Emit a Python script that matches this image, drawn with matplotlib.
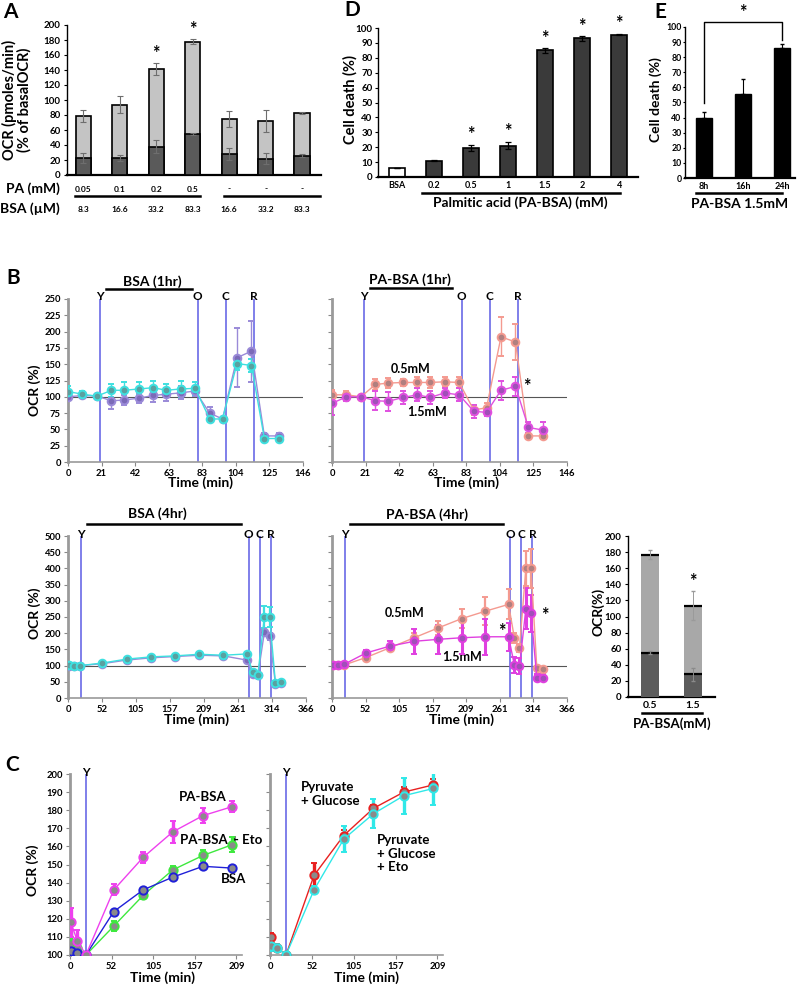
import numpy as np
import matplotlib
matplotlib.use("Agg")
import matplotlib.pyplot as plt
from matplotlib.lines import Line2D
from matplotlib.transforms import blended_transform_factory

# ── Data ──────────────────────────────────────────────────────────────────────
# A: OCR stacked bars
a_pa = ["0.05", "0.1", "0.2", "0.5", "-", "-", "-"]
a_bsa = ["8.3", "16.6", "33.2", "83.3", "16.6", "33.2", "83.3"]
a_total = [79, 94, 141, 178, 75, 72, 83]
a_total_err = [8, 11, 8, 3, 11, 15, 1]
a_basal = [23, 23, 38, 55, 28, 22, 26]
a_basal_err = [7, 4, 9, 1, 8, 7, 2]
a_sig = [False, False, True, True, False, False, False]

# D: cell death vs PA dose
d_cats = ["BSA", "0.2", "0.5", "1", "1.5", "2", "4"]
d_vals = [6, 11, 19.5, 21, 85, 93, 95.5]
d_err = [0, 0.5, 2, 2.5, 1.5, 1.5, 0.5]
d_sig = [False, False, True, True, True, True, True]

# E: cell death vs time
e_cats = ["8h", "16h", "24h"]
e_vals = [40, 55.5, 86]
e_err = [3.5, 10, 2.5]

# B top: 1 hr traces
b1_ticks = ["0", "21", "42", "63", "83", "104", "125", "146"]
b1_time = [0, 9, 18, 27, 35, 44, 53, 61, 70, 79, 88, 96, 105, 114, 122, 131]
b1_inj = [20, 80.5, 98, 115.5]
b1_bsa_a = [108, 104, 101, 110, 110, 112, 114, 110, 112, 113, 66, 66, 151, 148, 36, 36]
b1_bsa_a_err = [8, 5, 2, 10, 12, 10, 10, 10, 12, 10, 5, 3, 10, 10, 4, 4]
b1_bsa_b = [100, 102, 101, 94, 95, 98, 102, 104, 106, 109, 75, 66, 160, 170, 40, 40]
b1_bsa_b_err = [5, 4, 2, 12, 8, 8, 10, 10, 10, 8, 10, 3, 45, 47, 4, 4]
b1_pa05 = [103, 103, 100, 119, 121, 122, 122, 122, 123, 122, 80, 83, 192, 184, 40, 40]
b1_pa05_err = [8, 6, 2, 8, 8, 6, 8, 8, 8, 8, 8, 8, 30, 28, 5, 5]
b1_pa15 = [90, 100, 100, 94, 93, 99, 103, 99, 106, 103, 78, 76, 110, 116, 53, 49]
b1_pa15_err = [18, 6, 2, 15, 15, 10, 10, 10, 8, 10, 10, 6, 15, 15, 8, 12]

# B bottom: 4 hr traces
b4_ticks = ["0", "52", "105", "157", "209", "261", "314", "366"]
b4_time = [1, 9, 19, 53, 90, 128, 165, 202, 239, 275, 284, 292, 302, 310, 319, 328]
b4_inj = [20, 278, 295, 312]
b4_bsa_a = [102, 100, 100, 108, 120, 127, 130, 135, 132, 136, 80, 72, 250, 250, 47, 48]
b4_bsa_a_err = [5, 4, 2, 5, 5, 5, 5, 5, 5, 5, 5, 5, 35, 30, 5, 5]
b4_bsa_b = [100, 98, 100, 106, 117, 124, 128, 132, 130, 117, 75, 70, 203, 190, 44, 46]
b4_bsa_b_err = [5, 4, 2, 5, 5, 5, 5, 5, 5, 5, 5, 5, 10, 10, 5, 5]
b4_pa05 = [102, 102, 102, 125, 155, 186, 216, 245, 268, 289, 186, 155, 400, 400, 92, 89]
b4_pa05_err = [4, 4, 4, 6, 8, 15, 23, 30, 44, 46, 15, 12, 55, 60, 8, 8]
b4_pa15 = [102, 102, 104, 139, 160, 175, 181, 186, 189, 189, 102, 98, 276, 261, 63, 63]
b4_pa15_err = [4, 4, 4, 8, 15, 38, 44, 50, 55, 44, 26, 25, 64, 57, 12, 12]

# B inset: stacked OCR bars
in_cats = ["0.5", "1.5"]
in_total = [177, 113.5]
in_total_err = [5, 18]
in_basal = [55, 28]
in_basal_err = [2, 8]

# C: OCR time courses
c_ticks = ["0", "52", "105", "157", "209"]
c_time = [1, 9, 20, 55, 92, 129, 167, 204]
c_pa = [118, 108, 100, 136, 154, 168, 177, 182]
c_pa_err = [8, 6, 1, 3, 3, 6, 4, 3]
c_eto = [106, 104, 100, 116, 133, 147, 155, 161]
c_eto_err = [8, 5, 1, 3, 2, 2, 3, 4]
c_bsa = [102, 101, 100, 124, 136, 143, 149, 148]
c_bsa_err = [1, 1, 0.5, 1, 1, 1, 1, 1]
c_pyr = [110, 104, 100, 144, 166, 181, 190, 194]
c_pyr_err = [2, 2, 1, 7, 3, 2, 3, 3]
c_pyr_eto = [105, 104, 100, 136, 164, 178, 188, 192]
c_pyr_eto_err = [3, 2, 1, 2, 7, 8, 10, 9]

# ── Style ─────────────────────────────────────────────────────────────────────
plt.rcParams.update({
    "font.family": ["Lato", "DejaVu Sans"],
    "font.weight": "bold",
    "axes.spines.top": False,
    "axes.spines.right": False,
    "axes.facecolor": "none",
})

W, H = 800, 986
fig = plt.figure(figsize=(W / 100, H / 100), dpi=100)

INJ = "#6a6ae6"
GRID100 = "#555555"


def box(x0, y0, x1, y1):
    return [x0 / W, 1 - y1 / H, (x1 - x0) / W, (y1 - y0) / H]


def ftext(x, y, s, **kw):
    kw.setdefault("ha", "center")
    kw.setdefault("va", "center")
    fig.text(x / W, 1 - y / H, s, **kw)


def fline(x0, x1, y, lw=1.8, color="black"):
    fig.add_artist(Line2D([x0 / W, x1 / W], [1 - y / H, 1 - y / H], color=color, lw=lw))


def bar_axes(ax, ticksize=7, pad=2):
    ax.spines["left"].set_linewidth(1.0)
    ax.spines["bottom"].set_linewidth(1.6)
    ax.tick_params(axis="y", labelsize=ticksize, length=2.5, width=0.8, pad=pad)
    ax.tick_params(axis="x", length=0, labelsize=6.5, pad=3)


def trace_axes(ax, xmax, ticks, labels, ylim, ystep, show_y=True):
    ax.set_xlim(0, xmax)
    ax.set_ylim(*ylim)
    ax.set_xticks(ticks, labels)
    ax.set_yticks(np.arange(ylim[0], ylim[1] + 1, ystep))
    if not show_y:
        ax.set_yticklabels([])
    for s in ("left", "bottom"):
        ax.spines[s].set_color("#9a9a9a")
    ax.spines["left"].set_linewidth(2.0)
    ax.spines["bottom"].set_linewidth(1.2)
    ax.tick_params(labelsize=6.8, length=3, width=0.8, color="#888888", pad=2)


def trace(ax, t, y, err, line, face, ms=5.5, elw=1.0, lw=1.0):
    ax.errorbar(t, y, yerr=err, color=line, lw=lw, elinewidth=elw, capsize=2,
                marker="o", ms=ms, mfc=face, mec=line, mew=1.4, zorder=4)


def injections(ax, times, ypix, letters=("Y", "O", "C", "R")):
    tr = blended_transform_factory(ax.transData, fig.transFigure)
    for t, s in zip(times, letters):
        ax.axvline(t, color=INJ, lw=1.2, zorder=2)
        if s:
            ax.text(t, 1 - ypix / H, s, transform=tr, ha="center", va="center",
                    fontsize=8.5, clip_on=False)


# ── A ─────────────────────────────────────────────────────────────────────────
axA = fig.add_axes(box(67, 25, 321, 175))
xa = np.arange(len(a_total))
axA.bar(xa, a_total, 0.42, color="#c4c4c4", edgecolor="black", lw=1.2, zorder=2)
axA.bar(xa, a_basal, 0.42, color="#5a5a5a", edgecolor="black", lw=1.2, zorder=3)
axA.errorbar(xa, a_total, yerr=a_total_err, fmt="none", ecolor="#6e6e6e",
             elinewidth=0.8, capsize=2, capthick=0.8, zorder=4)
axA.errorbar(xa, a_basal, yerr=a_basal_err, fmt="none", ecolor="#6e6e6e",
             elinewidth=0.8, capsize=2, capthick=0.8, zorder=4)
for x, v, e, s in zip(xa, a_total, a_total_err, a_sig):
    if s:
        axA.text(x, v + e + 2, "*", ha="center", va="bottom", fontsize=13)
axA.set_xlim(-0.45, 6.52)
axA.set_ylim(0, 200)
axA.set_yticks(np.arange(0, 201, 20))
axA.set_xticks([])
bar_axes(axA)
trA = blended_transform_factory(axA.transData, fig.transFigure)
for x, p, b in zip(xa, a_pa, a_bsa):
    axA.text(x, 1 - 189 / H, p, transform=trA, ha="center", va="center", fontsize=6)
    axA.text(x, 1 - 209 / H, b, transform=trA, ha="center", va="center", fontsize=6)
ftext(60, 189, "PA (mM)", ha="right", fontsize=10)
ftext(60, 209, "BSA (µM)", ha="right", fontsize=10)
fline(75, 200, 196)
fline(224, 320, 196)
ftext(17, 100, "OCR (pmoles/min)\n(% of basalOCR)", rotation=90, fontsize=10.5,
      linespacing=1.05)
ftext(10, 12, "A", fontsize=15)

# ── D ─────────────────────────────────────────────────────────────────────────
axD = fig.add_axes(box(378, 28, 638, 177))
xd = np.arange(len(d_vals))
d_colors = ["white"] + ["#3a3a3a"] * (len(d_vals) - 1)
axD.bar(xd, d_vals, 0.42, color=d_colors, edgecolor="black", lw=1.2, zorder=2)
axD.errorbar(xd, d_vals, yerr=d_err, fmt="none", ecolor="black", elinewidth=0.9,
             capsize=2.5, capthick=0.9, zorder=3)
for x, v, e, s in zip(xd, d_vals, d_err, d_sig):
    if s:
        axD.text(x, v + e + 1, "*", ha="center", va="bottom", fontsize=13)
axD.set_xlim(-0.51, 6.51)
axD.set_ylim(0, 100)
axD.set_yticks(np.arange(0, 101, 10))
axD.set_xticks(xd, d_cats)
bar_axes(axD, ticksize=7, pad=1.5)
fline(422, 620, 193)
ftext(520, 203, "Palmitic acid (PA-BSA) (mM)", fontsize=10)
ftext(350, 100, "Cell death (%)", rotation=90, fontsize=10.5)
ftext(352, 10, "D", fontsize=15)

# ── E ─────────────────────────────────────────────────────────────────────────
axE = fig.add_axes(box(685, 27, 795, 178))
xe = np.arange(len(e_vals))
axE.bar(xe, e_vals, 0.42, color="black", edgecolor="black", zorder=2)
axE.errorbar(xe, e_vals, yerr=[np.zeros(len(e_err)), e_err], fmt="none",
             ecolor="black", elinewidth=0.8, capsize=1.5, zorder=3)
left_leg = e_vals[0] + e_err[0] + 6
right_leg = e_vals[-1] + e_err[-1] + 3
axE.plot([xe[0], xe[0], xe[-1], xe[-1]], [left_leg, 103.5, 103.5, right_leg],
         color="black", lw=1.0, clip_on=False)
axE.text(xe[1], 104, "*", ha="center", va="bottom", fontsize=13, clip_on=False)
axE.set_xlim(-0.49, 2.33)
axE.set_ylim(0, 100)
axE.set_yticks(np.arange(0, 101, 10))
axE.set_xticks(xe, e_cats)
bar_axes(axE, ticksize=6.3, pad=1)
axE.tick_params(axis="y", length=1.5)
fline(696, 782, 193)
ftext(740, 204, "PA-BSA 1.5mM", fontsize=10)
ftext(656, 100, "Cell death (%)", rotation=90, fontsize=10)
ftext(660, 12, "E", fontsize=15)

# ── B top (1 hr) ──────────────────────────────────────────────────────────────
b1_pos = np.linspace(0, 146, len(b1_ticks))
axB1 = fig.add_axes(box(68, 299, 303, 462))
trace_axes(axB1, 146, b1_pos, b1_ticks, (0, 250), 25)
axB1.axhline(100, color=GRID100, lw=0.8, zorder=1)
injections(axB1, b1_inj, 297)
trace(axB1, b1_time, b1_bsa_b, b1_bsa_b_err, "#9a8ad8", "#7b6ab8")
trace(axB1, b1_time, b1_bsa_a, b1_bsa_a_err, "#3ee0e0", "#5aa0a0")
ftext(200, 483, "Time (min)", fontsize=10)
ftext(35, 390, "OCR (%)", rotation=90, fontsize=10)
ftext(13, 278, "B", fontsize=15)
ftext(152, 282, "BSA (1hr)", fontsize=10)
fline(106, 192, 289)

axB2 = fig.add_axes(box(332, 299, 567, 462))
trace_axes(axB2, 146, b1_pos, b1_ticks, (0, 250), 25, show_y=False)
axB2.axhline(100, color=GRID100, lw=0.8, zorder=1)
injections(axB2, b1_inj, 297)
trace(axB2, b1_time, b1_pa05, b1_pa05_err, "#f49a90", "#b08080")
trace(axB2, b1_time, b1_pa15, b1_pa15_err, "#e050e0", "#a050b8")
axB2.text(49, 142, "0.5mM", ha="center", va="center", fontsize=9)
axB2.text(59, 77, "1.5mM", ha="center", va="center", fontsize=9)
axB2.text(121, 116, "*", ha="center", va="center", fontsize=13)
ftext(466, 483, "Time (min)", fontsize=10)
ftext(410, 280, "PA-BSA (1hr)", fontsize=10)
fline(370, 452, 288)

# ── B bottom (4 hr) ───────────────────────────────────────────────────────────
b4_pos = np.linspace(0, 366, len(b4_ticks))
axB3 = fig.add_axes(box(68, 536, 306, 698))
trace_axes(axB3, 366, b4_pos, b4_ticks, (0, 500), 50)
axB3.axhline(100, color=GRID100, lw=0.8, zorder=1)
injections(axB3, b4_inj, 535)
trace(axB3, b4_time, b4_bsa_b, b4_bsa_b_err, "#9a8ad8", "#7b6ab8")
trace(axB3, b4_time, b4_bsa_a, b4_bsa_a_err, "#3ee0e0", "#5aa0a0", elw=1.6)
ftext(197, 720, "Time (min)", fontsize=10)
ftext(35, 613, "OCR (%)", rotation=90, fontsize=10)
ftext(157, 514, "BSA (4hr)", fontsize=10)
fline(87, 241, 524)

axB4 = fig.add_axes(box(332, 536, 567, 698))
trace_axes(axB4, 366, b4_pos, b4_ticks, (0, 500), 50, show_y=False)
axB4.axhline(100, color=GRID100, lw=0.8, zorder=1)
injections(axB4, b4_inj, 535)
trace(axB4, b4_time, b4_pa05, b4_pa05_err, "#f49a90", "#b08080", elw=1.6)
trace(axB4, b4_time, b4_pa15, b4_pa15_err, "#e040e0", "#a050b8", elw=2.2)
axB4.text(113, 261, "0.5mM", ha="center", va="center", fontsize=9)
axB4.text(202, 127, "1.5mM", ha="center", va="center", fontsize=9)
axB4.text(264, 205, "*", ha="center", va="center", fontsize=13)
axB4.text(332, 255, "*", ha="center", va="center", fontsize=13)
ftext(461, 720, "Time (min)", fontsize=10)
ftext(427, 515, "PA-BSA (4hr)", fontsize=10)
fline(350, 503, 524)

# inset bars
axIn = fig.add_axes(box(628, 536, 715, 697))
xi = np.arange(len(in_total))
axIn.bar(xi, in_total, 0.42, color="#a8a8a8", zorder=2)
axIn.bar(xi, in_basal, 0.42, color="#5c5c5c", zorder=3)
axIn.hlines(in_total, xi - 0.21, xi + 0.21, color="black", lw=1.6, zorder=4)
axIn.hlines(in_basal, xi - 0.21, xi + 0.21, color="black", lw=1.6, zorder=4)
axIn.errorbar(xi, in_total, yerr=in_total_err, fmt="none", ecolor="#9a9a9a",
              elinewidth=0.7, capsize=1.5, zorder=5)
axIn.errorbar(xi, in_basal, yerr=in_basal_err, fmt="none", ecolor="#8a8a8a",
              elinewidth=0.7, capsize=1.5, zorder=5)
axIn.text(xi[1], in_total[1] + in_total_err[1] + 2, "*", ha="center", va="bottom",
          fontsize=13)
axIn.set_xlim(-0.51, 1.51)
axIn.set_ylim(0, 200)
axIn.set_yticks(np.arange(0, 201, 20))
axIn.set_xticks(xi, in_cats)
bar_axes(axIn, ticksize=7)
axIn.tick_params(axis="x", labelsize=7.5)
fline(642, 702, 713)
ftext(672, 724, "PA-BSA(mM)", fontsize=9.5)
ftext(598, 612, "OCR(%)", rotation=90, fontsize=10)

# ── C ─────────────────────────────────────────────────────────────────────────
c_pos = np.linspace(0, 209, len(c_ticks))
axC1 = fig.add_axes(box(70, 774, 242, 955))
trace_axes(axC1, 216, c_pos, c_ticks, (100, 200), 10)
injections(axC1, [20], 773, letters=("Y",))
trace(axC1, c_time, c_eto, c_eto_err, "#3ee83e", "#8a8a8a", ms=6, elw=2.4)
trace(axC1, c_time, c_bsa, c_bsa_err, "#2020d8", "#8a8a8a", ms=6, elw=2.4)
trace(axC1, c_time, c_pa, c_pa_err, "#ee40ee", "#8a8a8a", ms=6, elw=2.4)
axC1.text(167, 187.5, "PA-BSA", ha="center", va="center", fontsize=9.5)
axC1.text(190, 163.5, "PA-BSA + Eto", ha="center", va="center", fontsize=9.5)
axC1.text(205, 142, "BSA", ha="center", va="center", fontsize=9.5)
ftext(162, 978, "Time (min)", fontsize=10)
ftext(33, 870, "OCR (%)", rotation=90, fontsize=10)
ftext(12, 765, "C", fontsize=15)

axC2 = fig.add_axes(box(270, 774, 443, 955))
trace_axes(axC2, 216, c_pos, c_ticks, (100, 200), 10, show_y=False)
injections(axC2, [20], 773, letters=("Y",))
trace(axC2, c_time, c_pyr, c_pyr_err, "#e82020", "#8a8a8a", ms=6, elw=2.4)
trace(axC2, c_time, c_pyr_eto, c_pyr_eto_err, "#30e8e8", "#8a8a8a", ms=6, elw=2.4)
axC2.text(39, 189, "Pyruvate\n+ Glucose", ha="left", va="center", fontsize=9.5,
          linespacing=1.15)
axC2.text(133, 156, "Pyruvate\n+ Glucose\n+ Eto", ha="left", va="center",
          fontsize=9.5, linespacing=1.15)
ftext(366, 978, "Time (min)", fontsize=10)

fig.savefig("out.png", dpi=100)
